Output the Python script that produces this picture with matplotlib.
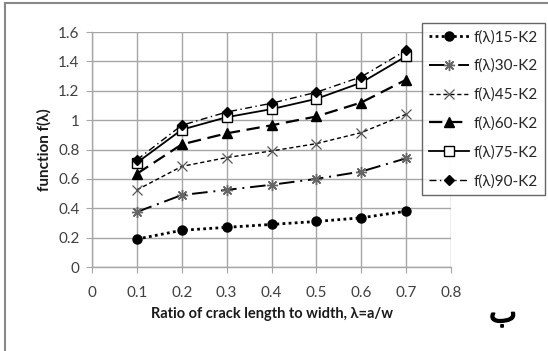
import matplotlib
matplotlib.use("Agg")
import matplotlib.pyplot as plt
import matplotlib.patheffects as pe
from matplotlib.lines import Line2D

# crack length to width ratio
ratio = [0.1, 0.2, 0.3, 0.4, 0.5, 0.6, 0.7]

f15 = [0.19, 0.25, 0.27, 0.29, 0.31, 0.335, 0.38]
f30 = [0.375, 0.49, 0.525, 0.56, 0.60, 0.65, 0.74]
f45 = [0.525, 0.685, 0.745, 0.79, 0.84, 0.915, 1.04]
f60 = [0.635, 0.835, 0.91, 0.965, 1.025, 1.12, 1.275]
f75 = [0.71, 0.935, 1.02, 1.075, 1.145, 1.255, 1.435]
f90 = [0.73, 0.965, 1.055, 1.115, 1.19, 1.295, 1.475]

labels = ["f(λ)15-K2", "f(λ)30-K2", "f(λ)45-K2", "f(λ)60-K2", "f(λ)75-K2", "f(λ)90-K2"]

x_ticks = [0, 0.1, 0.2, 0.3, 0.4, 0.5, 0.6, 0.7, 0.8]
x_tick_labels = ["0", "0.1", "0.2", "0.3", "0.4", "0.5", "0.6", "0.7", "0.8"]
y_ticks = [0, 0.2, 0.4, 0.6, 0.8, 1.0, 1.2, 1.4, 1.6]
y_tick_labels = ["0", "0.2", "0.4", "0.6", "0.8", "1", "1.2", "1.4", "1.6"]

plt.rcParams["font.family"] = ["Lato", "DejaVu Sans"]

fig = plt.figure(figsize=(5.48, 3.51), dpi=100)
ax = fig.add_axes([0.168, 0.2393, 0.655, 0.6695])

styles = [
    dict(ls=(0, (1, 1.2)), lw=2.0, marker="o", ms=6.5, mfc="black", mec="black", color="black"),
    dict(ls=(0, (8, 3, 1, 3)), lw=1.4, marker=(8, 2, 0), ms=8, mfc="none", mec="#666666", mew=1.0, color="black"),
    dict(ls=(0, (3, 2)), lw=1.0, marker="x", ms=6.5, mfc="none", mec="#555555", mew=0.9, color="black"),
    dict(ls=(0, (6, 3)), lw=1.6, marker="^", ms=6.5, mfc="black", mec="black", color="black"),
    dict(ls="-", lw=1.3, marker="s", ms=6.5, mfc="white", mec="black", mew=1.0, color="black"),
    dict(ls=(0, (5, 2.5, 1, 2.5)), lw=1.0, marker="D", ms=5, mfc="black", mec="black", color="black"),
]

series = [f15, f30, f45, f60, f75, f90]
for vals, lab, st in zip(series, labels, styles):
    ax.plot(ratio, vals, label=lab, **st)

ax.set_xlim(0, 0.8)
ax.set_ylim(0, 1.6)
ax.set_xticks(x_ticks)
ax.set_xticklabels(x_tick_labels)
ax.set_yticks(y_ticks)
ax.set_yticklabels(y_tick_labels)
ax.grid(True, color="#a6a6a6", lw=1.0)
ax.set_axisbelow(True)
for s in ["top", "right"]:
    ax.spines[s].set_visible(False)
for s in ["left", "bottom"]:
    ax.spines[s].set_color("#a6a6a6")
    ax.spines[s].set_linewidth(1.0)
ax.tick_params(axis="both", colors="#a6a6a6", labelcolor="#404040", labelsize=11, length=4)
ax.tick_params(axis="x", pad=10)
ax.tick_params(axis="y", pad=5)

ax.set_xlabel("Ratio of crack length to width, λ=a/w", fontsize=10.5, fontweight="bold",
              color="#1a1a1a", labelpad=5)
ax.set_ylabel("function f(λ)", fontsize=11, fontweight="bold", color="#1a1a1a", labelpad=5)

leg = fig.legend(loc="upper left", bbox_to_anchor=(422 / 548, 1 - 23 / 351), frameon=True,
                 fancybox=False, edgecolor="#404040", fontsize=11, handlelength=2.6,
                 labelspacing=0.95, borderpad=0.45, handletextpad=0.35, borderaxespad=0)
leg.get_frame().set_linewidth(1.0)
for t in leg.get_texts():
    t.set_color("#262626")

fig.text(503 / 548, 1 - 314 / 351, "\u0628", fontsize=21,
         family=["DejaVu Sans"], ha="center", va="center", color="black",
         path_effects=[pe.withStroke(linewidth=1.2, foreground="black")])

# outer chart frame (left and top edges)
fig.add_artist(Line2D([5 / 548, 5 / 548], [0, 1 - 3 / 351], transform=fig.transFigure,
                      color="#888888", lw=1.5))
fig.add_artist(Line2D([5 / 548, 1], [1 - 3 / 351, 1 - 3 / 351], transform=fig.transFigure,
                      color="#888888", lw=1.5))

fig.savefig("out.png", dpi=100)
